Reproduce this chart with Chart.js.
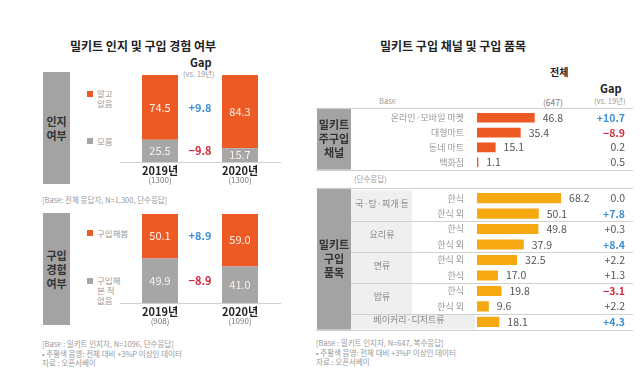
<!DOCTYPE html>
<html>
<head>
<meta charset="utf-8">
<script src="https://cdn.jsdelivr.net/npm/chart.js@4/dist/chart.umd.min.js"></script>
<style>
  body { margin: 0; width: 640px; height: 371px; background: #fff; position: relative; overflow: hidden;
         font-family: "Noto Sans CJK KR", "Noto Sans", sans-serif; }
  .abs { position: absolute; white-space: nowrap; }
  .title { font-size: 12px; font-weight: bold; color: #222; }
  .box { position: absolute; background: #a3a3a3; color: #333; font-weight: bold; font-size: 11px;
         line-height: 14px; text-align: center; display: flex; align-items: center; justify-content: center; }
  .note { font-size: 7.5px; color: #999; line-height: 9.5px; }
  .leg { font-size: 8.5px; color: #999; line-height: 10px; }
  .sq { position: absolute; width: 6px; height: 6px; }
  canvas { position: absolute; }
</style>
</head>
<body>
<div class="abs title" style="left:70px;top:37px;">밀키트 인지 및 구입 경험 여부</div>
<div class="abs title" style="left:380px;top:37px;">밀키트 구입 채널 및 구입 품목</div>

<div class="abs" style="left:190px;top:54px;font-size:11px;font-weight:bold;color:#222;">Gap</div>
<div class="abs" style="left:183px;top:68px;font-size:7.5px;color:#999;">(vs. 19년)</div>

<div class="box" style="left:43px;top:72px;width:27px;height:112px;">인지<br>여부</div>
<div class="sq" style="left:87px;top:91px;background:#ee5a24;"></div>
<div class="abs leg" style="left:97px;top:88px;">알고<br>있음</div>
<div class="sq" style="left:87px;top:138px;background:#a6a6a6;"></div>
<div class="abs leg" style="left:97px;top:136px;">모름</div>
<div class="abs note" style="left:42px;top:195px;">[Base: 전체 응답자, N=1,300, 단수응답]</div>

<div class="box" style="left:43px;top:213px;width:27px;height:112px;">구입<br>경험<br>여부</div>
<div class="sq" style="left:87px;top:230px;background:#ee5a24;"></div>
<div class="abs leg" style="left:97px;top:228px;">구입해봄</div>
<div class="sq" style="left:87px;top:278px;background:#a6a6a6;"></div>
<div class="abs leg" style="left:97px;top:275px;">구입해<br>본 적<br>없음</div>
<div class="abs note" style="left:42px;top:339px;">[Base : 밀키트 인지자, N=1096, 단수응답]<br>• 주황색 음영: 전체 대비 +3%P 이상인 데이터<br>자료 : 오픈서베이</div>

<div class="abs" style="left:550px;top:64px;font-size:10px;font-weight:bold;color:#222;">전체</div>
<div class="abs" style="left:379px;top:95px;font-size:7.5px;color:#999;">Base</div>
<div class="abs" style="left:543px;top:96px;font-size:8.5px;color:#777;">(647)</div>
<div class="abs" style="left:600px;top:80px;font-size:11px;font-weight:bold;color:#222;">Gap</div>
<div class="abs" style="left:594px;top:95px;font-size:7.5px;color:#999;">(vs. 19년)</div>
<div class="abs note" style="left:354px;top:174px;">(단수응답)</div>
<div class="abs note" style="left:316px;top:338px;">[Base : 밀키트 인지자, N=647, 복수응답]<br>• 주황색 음영: 전체 대비 +3%P 이상인 데이터<br>자료 : 오픈서베이</div>

<canvas id="awareChart" width="200" height="135" style="left:100px;top:60px;"></canvas>
<canvas id="buyChart" width="200" height="137" style="left:100px;top:199px;"></canvas>
<canvas id="channelChart" width="320" height="80" style="left:316px;top:100px;"></canvas>
<canvas id="itemChart" width="320" height="160" style="left:316px;top:180px;"></canvas>

<script>
// ---- data ----
const years = ["2019년", "2020년"];
const awareBases = ["(1300)", "(1300)"];
const awareYes = [74.5, 84.3];
const awareNo = [25.5, 15.7];
const awareGaps = ["+9.8", "−9.8"];

const buyBases = ["(908)", "(1090)"];
const boughtYes = [50.1, 59.0];
const boughtNo = [49.9, 41.0];
const boughtGaps = ["+8.9", "−8.9"];

const channels = ["온라인·모바일 마켓", "대형마트", "동네 마트", "백화점"];
const channelValues = [46.8, 35.4, 15.1, 1.1];
const channelGaps = ["+10.7", "−8.9", "0.2", "0.5"];

const itemGroups = ["국·탕·찌개 등", "요리류", "면류", "밥류", "베이커리·디저트류"];
const itemGroupRows = [[0, 1], [2, 3], [4, 5], [6, 7], [8]];
const itemLabels = ["한식", "한식 외", "한식", "한식 외", "한식 외", "한식", "한식", "한식 외", ""];
const itemValues = [68.2, 50.1, 49.8, 37.9, 32.5, 17.0, 19.8, 9.6, 18.1];
const itemGaps = ["0.0", "+7.8", "+0.3", "+8.4", "+2.2", "+1.3", "−3.1", "+2.2", "+4.3"];

const ORANGE = "#ee5a24";
const GRAY = "#a6a6a6";
const GOLD = "#f6a811";
const BLUE = "#3d8fd1";
const RED = "#d42a3c";
const FONT = '"Noto Sans CJK KR", "Noto Sans", sans-serif';

function gapColor(txt) {
    const v = parseFloat(txt.replace("−", "-"));
    if (v >= 3) return BLUE;
    if (v <= -3) return RED;
    return "#555";
}

// stacked bars on the left
function stackChart(id, yes, no, gaps, bases) {
    const labelPlugin = {
        id: "stackLabels",
        afterDatasetsDraw(chart) {
            const ctx = chart.ctx;
            const x = chart.scales.x;
            const y = chart.scales.y;
            ctx.save();
            ctx.textAlign = "center";
            ctx.textBaseline = "middle";
            years.forEach((yr, i) => {
                const cx = x.getPixelForValue(i);
                const pNo = y.getPixelForValue(no[i]);
                const pTop = y.getPixelForValue(no[i] + yes[i]);
                const p0 = y.getPixelForValue(0);
                ctx.fillStyle = "#fdf2ea";
                ctx.font = "11px " + FONT;
                ctx.fillText(yes[i].toFixed(1), cx, (pNo + pTop) / 2);
                ctx.fillText(no[i].toFixed(1), cx, (pNo + p0) / 2);
                ctx.fillStyle = "#222";
                ctx.font = "bold 11px " + FONT;
                ctx.fillText(yr, cx, p0 + 9);
                ctx.fillStyle = "#777";
                ctx.font = "8px " + FONT;
                ctx.fillText(bases[i], cx, p0 + 18);
            });
            // gap column between the two bars, aligned to 2019 segments
            const mid = (x.getPixelForValue(0) + x.getPixelForValue(1)) / 2;
            const pNo0 = y.getPixelForValue(no[0]);
            const pTop0 = y.getPixelForValue(100);
            const p0 = y.getPixelForValue(0);
            ctx.font = "bold 11px " + FONT;
            ctx.fillStyle = BLUE;
            ctx.fillText(gaps[0], mid, (pNo0 + pTop0) / 2);
            ctx.fillStyle = RED;
            ctx.fillText(gaps[1], mid, (pNo0 + p0) / 2);
            ctx.restore();
        }
    };
    new Chart(document.getElementById(id), {
        type: "bar",
        data: {
            labels: years,
            datasets: [
                { data: no, backgroundColor: GRAY, categoryPercentage: 1, barPercentage: 0.45 },
                { data: yes, backgroundColor: ORANGE, categoryPercentage: 1, barPercentage: 0.45 }
            ]
        },
        options: {
            responsive: false,
            animation: false,
            layout: { padding: { left: 20, right: 20, top: 15, bottom: 25 } },
            scales: {
                x: { stacked: true, grid: { display: false }, ticks: { display: false },
                     border: { color: "#d0d0d0" } },
                y: { stacked: true, display: false, min: 0, max: 100 }
            },
            plugins: { legend: { display: false }, tooltip: { enabled: false } }
        },
        plugins: [labelPlugin]
    });
}

stackChart("awareChart", awareYes, awareNo, awareGaps, awareBases);
stackChart("buyChart", boughtYes, boughtNo, boughtGaps, buyBases);

// horizontal bars on the right
function hbarChart(id, labels, values, gaps, color, boxLabel, groups) {
    const plugin = {
        id: "hbarExtras",
        beforeDatasetsDraw(chart) {
            const ctx = chart.ctx;
            const a = chart.chartArea;
            const y = chart.scales.y;
            const step = y.getPixelForValue(1) - y.getPixelForValue(0);
            const top = a.top - 2.5;
            const bottom = a.bottom;
            ctx.save();
            // left gray box
            ctx.fillStyle = "#a3a3a3";
            ctx.fillRect(1, top, 34, bottom - top);
            ctx.fillStyle = "#333";
            ctx.font = "bold 11px " + FONT;
            ctx.textAlign = "center";
            ctx.textBaseline = "middle";
            const mid = (top + bottom) / 2;
            boxLabel.forEach((t, i) => ctx.fillText(t, 18, mid + (i - (boxLabel.length - 1) / 2) * 14));
            if (groups) {
                groups.forEach((g, gi) => {
                    const rows = itemGroupRows[gi];
                    const gTop = y.getPixelForValue(rows[0]) - step / 2;
                    const gBot = y.getPixelForValue(rows[rows.length - 1]) + step / 2;
                    const wide = rows.length === 1;
                    ctx.fillStyle = "#efefef";
                    ctx.fillRect(35, gTop, wide ? a.left - 37 : 61, gBot - gTop);
                    ctx.fillStyle = "#888";
                    ctx.font = "9px " + FONT;
                    ctx.fillText(g, wide ? 93 : 66, (gTop + gBot) / 2 - 2);
                    if (gi > 0) {
                        ctx.strokeStyle = "#d0d0d0";
                        ctx.lineWidth = 1;
                        ctx.beginPath();
                        ctx.moveTo(35, Math.round(gTop) + 0.5);
                        ctx.lineTo(a.right + 8, Math.round(gTop) + 0.5);
                        ctx.stroke();
                    }
                });
            }
            ctx.strokeStyle = "#d0d0d0";
            ctx.lineWidth = 1;
            [top, bottom].forEach(py => {
                ctx.beginPath();
                ctx.moveTo(0, Math.round(py) + 0.5);
                ctx.lineTo(a.right + 8, Math.round(py) + 0.5);
                ctx.stroke();
            });
            ctx.restore();
        },
        afterDatasetsDraw(chart) {
            const ctx = chart.ctx;
            const a = chart.chartArea;
            const x = chart.scales.x;
            const y = chart.scales.y;
            ctx.save();
            ctx.textBaseline = "middle";
            values.forEach((v, i) => {
                const py = y.getPixelForValue(i);
                ctx.textAlign = "left";
                ctx.fillStyle = "#555";
                ctx.font = "10.5px " + FONT;
                ctx.fillText(v.toFixed(1), x.getPixelForValue(v) + 8, py);
                ctx.textAlign = "right";
                const c = gapColor(gaps[i]);
                ctx.fillStyle = c;
                ctx.font = (c === "#555" ? "" : "bold ") + "10.5px " + FONT;
                ctx.fillText(gaps[i], a.right, py);
            });
            ctx.restore();
        }
    };
    new Chart(document.getElementById(id), {
        type: "bar",
        data: {
            labels: labels,
            datasets: [{ data: values, backgroundColor: color, categoryPercentage: 1, barPercentage: 0.65 }]
        },
        options: {
            indexAxis: "y",
            responsive: false,
            animation: false,
            layout: { padding: { left: 0, right: 11, top: 9.5, bottom: 9 } },
            scales: {
                x: { display: false, min: 0, max: 120 },
                y: {
                    grid: { display: false },
                    border: { display: false },
                    afterFit(scale) { scale.width = 161; },
                    ticks: { color: "#999", padding: 5, font: { size: 9, family: FONT } }
                }
            },
            plugins: { legend: { display: false }, tooltip: { enabled: false } }
        },
        plugins: [plugin]
    });
}

hbarChart("channelChart", channels, channelValues, channelGaps, ORANGE, ["밀키트", "주구입", "채널"], null);
hbarChart("itemChart", itemLabels, itemValues, itemGaps, GOLD, ["밀키트", "구입", "품목"], itemGroups);
</script>
</body>
</html>
